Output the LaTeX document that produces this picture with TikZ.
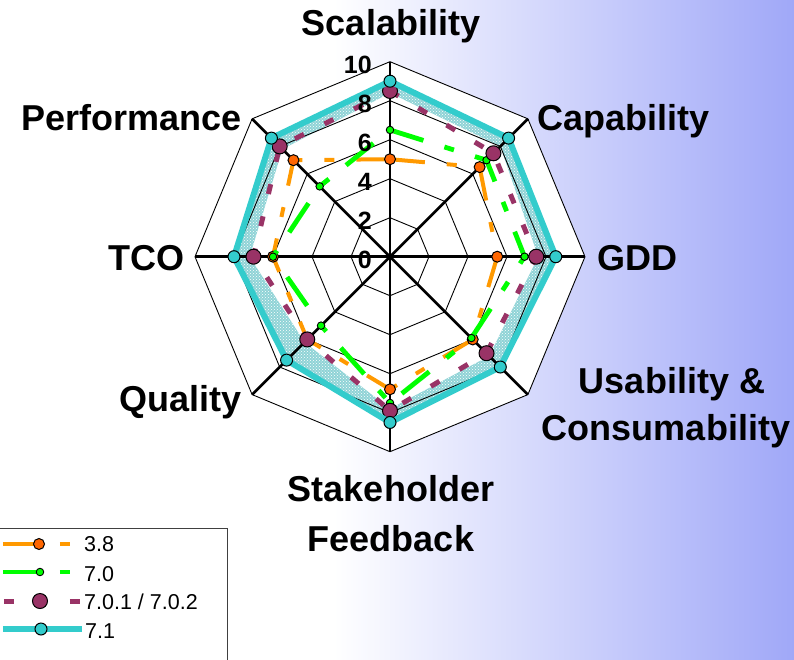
\documentclass[tikz,border=0pt]{standalone}
\usepackage{fontspec}
\setmainfont{Liberation Sans}
\usetikzlibrary{patterns}
\definecolor{orL}{HTML}{FF9900}
\definecolor{orM}{HTML}{FF6600}
\definecolor{grL}{HTML}{00FF00}
\definecolor{puL}{HTML}{993366}
\definecolor{cyL}{HTML}{33CCCC}
\definecolor{hatchC}{HTML}{8FD3D6}
\definecolor{bgblue}{HTML}{A0A8F8}
\pgfdeclarehorizontalshading{bgshade}{100bp}{color(0bp)=(white); color(25bp)=(white); color(46bp)=(white); color(75bp)=(bgblue); color(100bp)=(bgblue)}
\begin{document}
\begin{tikzpicture}[x=1pt,y=1pt,
  lab/.style={font=\fontsize{36}{40}\selectfont\bfseries, inner sep=0pt},
  num/.style={font=\fontsize{25}{28}\selectfont\bfseries, inner sep=0pt, anchor=base east},
  leg/.style={font=\fontsize{21.5}{24}\selectfont, inner sep=0pt, anchor=base west},
  gridl/.style={black, line width=0.9pt, line join=miter},
  axisl/.style={black, line width=2.6pt},
  s38/.style={orL, line width=4pt, dash pattern=on 35pt off 22pt on 10pt off 22pt},
  s70/.style={grL, line width=4.8pt, dash pattern=on 35pt off 22pt on 10pt off 22pt},
  s701/.style={puL, line width=5pt, dash pattern=on 10pt off 23pt},
  s71/.style={cyL, line width=6pt, line join=miter},
  m38/.style={circle, draw=black, line width=1pt, fill=orM, minimum size=11pt, inner sep=0pt},
  m70/.style={circle, draw=black, line width=0.9pt, fill=grL, minimum size=7.5pt, inner sep=0pt},
  m701/.style={circle, draw=black, line width=1pt, fill=puL, minimum size=15pt, inner sep=0pt},
  m71/.style={circle, draw=black, line width=1pt, fill=cyL, minimum size=12pt, inner sep=0pt}]
\useasboundingbox (-390,-402.3) rectangle (404,256.7);
\clip (-390,-402.3) rectangle (404,256.7);
\shade[shading=bgshade] (-390,-402.3) rectangle (404,256.7);
% plot area
\fill[white] (90:195) \foreach \a in {45,0,-45,-90,-135,180,135} {-- (\a:195)} -- cycle;
% data coordinates
\foreach \a/\v [count=\i] in {90/5.0,45/6.5,0/5.5,-45/6.0,-90/6.8,-135/6.0,180/6.0,135/7.0}
  \coordinate (o\i) at (\a:{19.5*\v});
\foreach \a/\v [count=\i] in {90/6.5,45/7.0,0/6.9,-45/5.9,-90/7.5,-135/5.0,180/6.0,135/5.1}
  \coordinate (g\i) at (\a:{19.5*\v});
\foreach \a/\v [count=\i] in {90/8.5,45/7.5,0/7.5,-45/7.0,-90/7.9,-135/6.0,180/7.0,135/8.0}
  \coordinate (p\i) at (\a:{19.5*\v});
\foreach \a/\v [count=\i] in {90/9.0,45/8.6,0/8.5,-45/8.0,-90/8.5,-135/7.5,180/8.0,135/8.6}
  \coordinate (c\i) at (\a:{19.5*\v});
\foreach \a/\v [count=\i] in {90/8.4,45/8.0,0/7.6,-45/7.2,-90/7.8,-135/6.2,180/7.2,135/7.8}
  \coordinate (h\i) at (\a:{19.5*\v});
% hatched band
\fill[hatchC, even odd rule] (c1)--(c2)--(c3)--(c4)--(c5)--(c6)--(c7)--(c8)--cycle
  (h1)--(h2)--(h3)--(h4)--(h5)--(h6)--(h7)--(h8)--cycle;
\fill[pattern=crosshatch dots, pattern color=white, even odd rule] (c1)--(c2)--(c3)--(c4)--(c5)--(c6)--(c7)--(c8)--cycle
  (h1)--(h2)--(h3)--(h4)--(h5)--(h6)--(h7)--(h8)--cycle;
% grid
\foreach \r in {2,4,6,8,10}
  \draw[gridl] (90:{19.5*\r}) \foreach \a in {45,0,-45,-90,-135,180,135} {-- (\a:{19.5*\r})} -- cycle;
\coordinate (ctr) at (0,0);
\foreach \a [count=\i] in {90,45,0,-45,-90,-135,180,135} {
  \coordinate (ax\i) at (\a:195);
  \draw[axisl] (ctr) -- (ax\i);
}
% series
\draw[s38] (o1)--(o2)--(o3)--(o4)--(o5)--(o6)--(o7)--(o8)--cycle;
\foreach \i in {1,...,8} \node[m38] (om\i) at (o\i) {};
\draw[s70] (g1)--(g2)--(g3)--(g4)--(g5)--(g6)--(g7)--(g8)--cycle;
\foreach \i in {1,...,8} \node[m70] (gm\i) at (g\i) {};
\draw[s701] (p1)--(p2)--(p3)--(p4)--(p5)--(p6)--(p7)--(p8)--cycle;
\foreach \i in {1,...,8} \node[m701] (pm\i) at (p\i) {};
\draw[s71] (c1)--(c2)--(c3)--(c4)--(c5)--(c6)--(c7)--(c8)--cycle;
\foreach \i in {1,...,8} \node[m71] (cm\i) at (c\i) {};
% scale numbers
\foreach \v in {0,2,4,6,8,10} \node[num] (n\v) at (-18,{19.5*\v-11.5}) {\v};
% axis labels
\node[lab, anchor=base] (scal) at (1,220.7) {Scalability};
\node[lab, anchor=base west] (cap) at (147,126.7) {Capability};
\node[lab, anchor=base west] (gdd) at (207,-13.3) {GDD};
\node[lab, anchor=base] (usa1) at (282,-136.3) {Usability \&};
\node[lab, anchor=base] (usa2) at (276,-183.3) {Consumability};
\node[lab, anchor=base] (stk1) at (1,-245) {Stakeholder};
\node[lab, anchor=base] (stk2) at (1,-295) {Feedback};
\node[lab, anchor=base east] (qual) at (-148,-155) {Quality};
\node[lab, anchor=base east] (tco) at (-205,-13.3) {TCO};
\node[lab, anchor=base east] (perf) at (-148,126.7) {Performance};
% legend
\node[draw=black!75, line width=1pt, fill=white, minimum width=230pt, minimum height=150pt, anchor=north west, inner sep=0pt] (legbox) at (-393,-271.3) {};
\coordinate (l1a) at (-387,-287.3); \coordinate (l1b) at (-312,-287.3);
\draw[s38] (l1a) -- (l1b);
\node[m38] (lm1) at (-351,-287.3) {};
\node[leg] (lt1) at (-306,-295) {3.8};
\coordinate (l2a) at (-387,-315.3); \coordinate (l2b) at (-312,-315.3);
\draw[s70] (l2a) -- (l2b);
\node[m70] (lm2) at (-350,-315.3) {};
\node[leg] (lt2) at (-306,-324.3) {7.0};
\coordinate (l3a) at (-386,-344.3); \coordinate (l3b) at (-309,-344.3);
\draw[s701] (l3a) -- (l3b);
\node[m701] (lm3) at (-350,-344.3) {};
\node[leg] (lt3) at (-306,-352.3) {7.0.1 / 7.0.2};
\coordinate (l4a) at (-387,-372.3); \coordinate (l4b) at (-308,-372.3);
\draw[s71] (l4a) -- (l4b);
\node[m71] (lm4) at (-349,-372.3) {};
\node[leg] (lt4) at (-305,-381.3) {7.1};
\end{tikzpicture}
\end{document}
